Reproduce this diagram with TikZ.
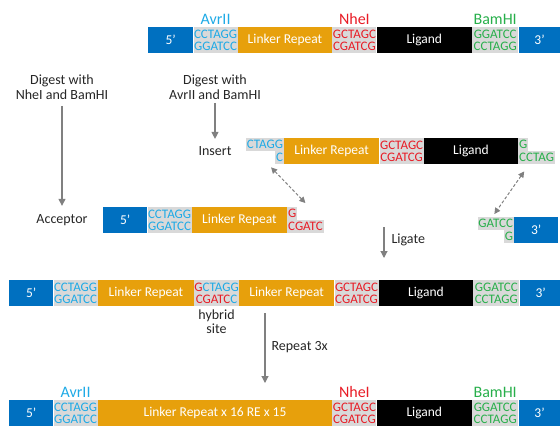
\documentclass[tikz,border=0pt]{standalone}
\usepackage{fontspec}
\setmainfont{Carlito}
\usepackage{xcolor}
\usepackage{tikz}
\usetikzlibrary{arrows.meta,positioning,calc}

\definecolor{dnablue}{RGB}{0,112,192}
\definecolor{linkerorange}{RGB}{231,160,12}
\definecolor{sitegray}{RGB}{217,217,217}
\definecolor{avrcol}{RGB}{30,170,230}
\definecolor{nhecol}{RGB}{232,28,38}
\definecolor{bamcol}{RGB}{40,175,75}
\definecolor{arrowgray}{RGB}{128,128,128}
\definecolor{textdark}{RGB}{38,38,38}

\begin{document}
\begin{tikzpicture}[x=1pt,y=-1pt,
    seg/.style={rectangle, inner sep=0pt, minimum height=26pt, text=white, font=\fontsize{13.5}{13.5}\selectfont},
    endbox/.style={seg, fill=dnablue, minimum width=44pt},
    linker/.style={seg, fill=linkerorange, minimum width=95pt},
    ligbox/.style={seg, fill=black, minimum width=95pt},
    site/.style={rectangle, inner sep=0pt, minimum height=26pt, minimum width=44pt, fill=sitegray, align=center, font=\fontsize{13}{12.5}\selectfont},
    sticky/.style={rectangle, inner sep=0.8pt, fill=sitegray, minimum height=13pt, font=\fontsize{13}{13}\selectfont},
    enzyme/.style={inner sep=2pt, font=\fontsize{16}{16}\selectfont},
    note/.style={align=center, text=textdark, font=\fontsize{14}{15}\selectfont},
    flow/.style={draw=arrowgray, line width=1.1pt, -{Triangle[length=7pt,width=7pt]}},
    pair/.style={draw=arrowgray, line width=1pt, dash pattern=on 3pt off 2pt, {Triangle[length=6pt,width=6pt]}-{Triangle[length=6pt,width=6pt]}}]
    \useasboundingbox (0,0) rectangle (560,426);

    % full construct
    \node[endbox, minimum width=45pt, anchor=north west] (t5) at (148,27) {5’};
    \node[site, text=avrcol, right=0pt of t5] (tavr) {CCTAGG\\GGATCC};
    \node[linker, minimum width=94pt, right=0pt of tavr] (tlr) {Linker Repeat};
    \node[site, text=nhecol, right=0pt of tlr] (tnhe) {GCTAGC\\CGATCG};
    \node[ligbox, right=0pt of tnhe] (tlig) {Ligand};
    \node[site, text=bamcol, minimum width=46pt, right=0pt of tlig] (tbam) {GGATCC\\CCTAGG};
    \node[endbox, minimum width=42pt, right=0pt of tbam] (t3) {3’};
    \node[enzyme, text=avrcol, above=0pt of tavr] (tavrname) {AvrII};
    \node[enzyme, text=nhecol, above=0pt of tnhe] (tnhename) {NheI};
    \node[enzyme, text=bamcol, above=0pt of tbam] (tbamname) {BamHI};

    % digests
    \node[note] (dig1) at (62,87) {Digest with\\NheI and BamHI};
    \node[note] (acc) at (62,220) {Acceptor};
    \draw[flow, shorten <=3pt, shorten >=5pt] (dig1) -- (acc);
    \node[note] (dig2) at (215,87) {Digest with\\AvrII and BamHI};
    \node[note] (ins) at (215,151) {Insert};
    \draw[flow, shorten >=4pt] (dig2) -- (ins);

    % insert
    \node[linker, anchor=north west] (ilr) at (284,138) {Linker Repeat};
    \node[sticky, text=avrcol, anchor=north east] (iavrtop) at (ilr.north west) {CTAGG};
    \node[sticky, text=avrcol, anchor=south east] (iavrbot) at (ilr.south west) {C};
    \node[site, text=nhecol, right=0pt of ilr] (inhe) {GCTAGC\\CGATCG};
    \node[ligbox, minimum width=94pt, right=0pt of inhe] (ilig) {Ligand};
    \node[sticky, text=bamcol, anchor=north west] (ibamtop) at (ilig.north east) {G};
    \node[sticky, text=bamcol, anchor=south west] (ibambot) at (ilig.south east) {CCTAG};

    % acceptor
    \node[endbox, anchor=north west] (a5) at (103,207) {5’};
    \node[site, text=avrcol, right=0pt of a5] (aavr) {CCTAGG\\GGATCC};
    \node[linker, right=0pt of aavr] (alr) {Linker Repeat};
    \node[sticky, text=nhecol, anchor=north west] (anhetop) at (alr.north east) {G};
    \node[sticky, text=nhecol, anchor=south west] (anhebot) at (alr.south east) {CGATC};

    % 3' piece
    \node[endbox, anchor=north west] (p3) at (514,217) {3’};
    \node[sticky, text=bamcol, anchor=north east] (pbamtop) at (p3.north west) {GATCC};
    \node[sticky, text=bamcol, anchor=south east] (pbambot) at (p3.south west) {G};

    \draw[pair] ([shift={(-4,3)}]iavrbot.south west) -- ([shift={(8,-4)}]anhetop.north east);
    \draw[pair] ([shift={(6,7)}]ibambot.south west) -- ([shift={(17,-3)}]pbamtop.north west);

    % ligate
    \coordinate (lg1) at (384,227);
    \coordinate (lg2) at (384,258);
    \draw[flow] (lg1) -- (lg2);
    \node[note, anchor=west] (lgname) at ($(lg1)!0.4!(lg2)+(4,0)$) {Ligate};

    % ligated product
    \node[endbox, anchor=north west] (l5) at (9,280) {5’};
    \node[site, text=avrcol, right=0pt of l5] (lavr) {CCTAGG\\GGATCC};
    \node[linker, minimum width=96pt, right=0pt of lavr] (llr) {Linker Repeat};
    \node[site, right=0pt of llr] (lhyb) {\textcolor{nhecol}{G}\textcolor{avrcol}{CTAGG}\\\textcolor{nhecol}{CGATC}\textcolor{avrcol}{C}};
    \node[linker, right=0pt of lhyb] (llr2) {Linker Repeat};
    \node[site, text=nhecol, right=0pt of llr2] (lnhe) {GCTAGC\\CGATCG};
    \node[ligbox, minimum width=94pt, right=0pt of lnhe] (llig) {Ligand};
    \node[site, text=bamcol, minimum width=46pt, right=0pt of llig] (lbam) {GGATCC\\CCTAGG};
    \node[endbox, minimum width=42pt, right=0pt of lbam] (l3) {3’};
    \node[note, font=\fontsize{14}{14}\selectfont, below=0pt of lhyb] (hyb) {hybrid\\site};

    % repeat
    \coordinate (rp1) at (265,313);
    \coordinate (rp2) at (265,383);
    \draw[flow] (rp1) -- (rp2);
    \node[note, anchor=west] (rpname) at (268,347) {Repeat 3x};

    % final construct
    \node[endbox, anchor=north west] (f5) at (9,400) {5’};
    \node[site, text=avrcol, right=0pt of f5] (favr) {CCTAGG\\GGATCC};
    \node[linker, minimum width=234pt, right=0pt of favr] (flr) {Linker Repeat x 16 RE x 15};
    \node[site, text=nhecol, right=0pt of flr] (fnhe) {GCTAGC\\CGATCG};
    \node[ligbox, right=0pt of fnhe] (flig) {Ligand};
    \node[site, text=bamcol, minimum width=46pt, right=0pt of flig] (fbam) {GGATCC\\CCTAGG};
    \node[endbox, minimum width=42pt, right=0pt of fbam] (f3) {3’};
    \node[enzyme, text=avrcol, above=0pt of favr] (favrname) {AvrII};
    \node[enzyme, text=nhecol, above=0pt of fnhe] (fnhename) {NheI};
    \node[enzyme, text=bamcol, above=0pt of fbam] (fbamname) {BamHI};
\end{tikzpicture}
\end{document}
